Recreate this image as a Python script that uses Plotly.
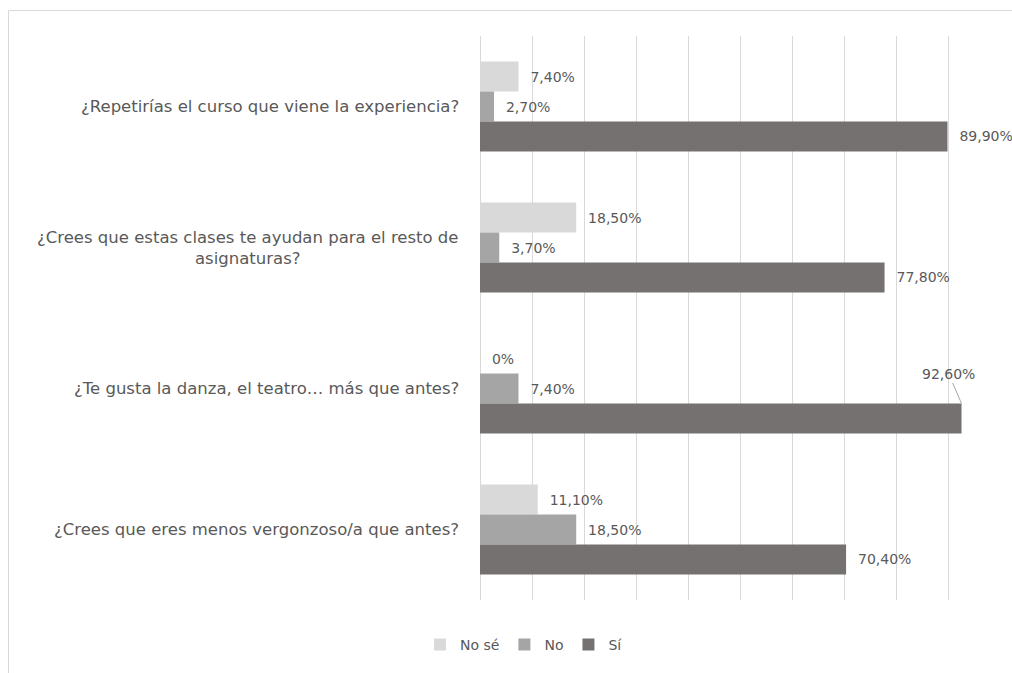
import plotly.graph_objects as go

# ---- data ----
categories = [
    "¿Repetirías el curso que viene la experiencia?",
    "¿Crees que estas clases te ayudan para el resto de<br>asignaturas?",
    "¿Te gusta la danza, el teatro… más que antes?",
    "¿Crees que eres menos vergonzoso/a que antes?",
]
series_names = ["No sé", "No", "Sí"]
no_se = [7.4, 18.5, 0.0, 11.1]
no = [2.7, 3.7, 7.4, 18.5]
si = [89.9, 77.8, 92.6, 70.4]
x_ticks = [0, 10, 20, 30, 40, 50, 60, 70, 80, 90, 100]

colors = ["#d9d9d9", "#a5a5a5", "#767171"]
text_color = "#595959"
FONT = "DejaVu Sans"
FS = 14
CAT_FS = 16.5

# labels shown via callout (series index, category index)
callouts = {(2, 2)}


def fmt(v):
    if v == 0:
        return "0%"
    return f"{v:.2f}".replace(".", ",") + "%"


fig = go.Figure()
all_series = [no_se, no, si]
for si_idx, (name, vals, col) in enumerate(zip(series_names, all_series, colors)):
    texts = []
    for ci, v in enumerate(vals):
        if (si_idx, ci) in callouts:
            texts.append("")
        else:
            texts.append("\u00a0\u00a0" + fmt(v))
    fig.add_trace(go.Bar(
        name=name, y=categories, x=vals, orientation="h",
        marker=dict(color=col, line=dict(width=0)),
        text=texts, textposition="outside", cliponaxis=False,
        constraintext="none",
        textfont=dict(family=FONT, size=FS, color=text_color),
        hoverinfo="skip",
    ))

annotations = []
# category labels (centered multi-line, right-anchored)
for c in categories:
    annotations.append(dict(
        xref="paper", yref="y", x=0, y=c, xanchor="right", yanchor="middle",
        xshift=-19, text=c, showarrow=False, align="center",
        font=dict(family=FONT, size=CAT_FS, color=text_color),
    ))
# callout labels with leader line
for (s_i, c_i) in callouts:
    v = all_series[s_i][c_i]
    annotations.append(dict(
        xref="x", yref="y", x=v, y=categories[c_i], yshift=-15,
        text=fmt(v), showarrow=True, arrowhead=0, arrowwidth=1,
        arrowcolor="#a6a6a6", ax=-13, ay=-30, standoff=0,
        font=dict(family=FONT, size=FS, color=text_color),
    ))

# outer chart border (left/top visible)
shapes = [dict(
    type="rect", xref="paper", yref="paper",
    x0=(8.5 - 480) / 520, x1=1.2, y0=-0.3, y1=(602 - 10.5) / 566,
    line=dict(color="#d9d9d9", width=1), fillcolor="rgba(0,0,0,0)", layer="below",
)]

fig.update_layout(
    width=1012, height=673,
    margin=dict(l=480, r=12, t=36, b=71),
    paper_bgcolor="white", plot_bgcolor="white",
    barmode="group", bargap=0.363, bargroupgap=0,
    font=dict(family=FONT, size=FS, color=text_color),
    xaxis=dict(range=[0, 100], tickvals=x_ticks, showticklabels=False,
               showgrid=True, gridcolor="#d9d9d9", gridwidth=1,
               zeroline=True, zerolinecolor="#d9d9d9", zerolinewidth=1,
               showline=False, fixedrange=True),
    yaxis=dict(autorange="reversed", showticklabels=False, showgrid=False,
               zeroline=False, showline=False, ticks="", fixedrange=True),
    legend=dict(orientation="h", x=(524 - 480) / 520, xanchor="center",
                y=(602 - 647) / 566, yanchor="middle",
                font=dict(family=FONT, size=FS, color=text_color),
                itemwidth=30, tracegroupgap=0),
    annotations=annotations,
    shapes=shapes,
    showlegend=True,
)

fig.write_html("out.html")
